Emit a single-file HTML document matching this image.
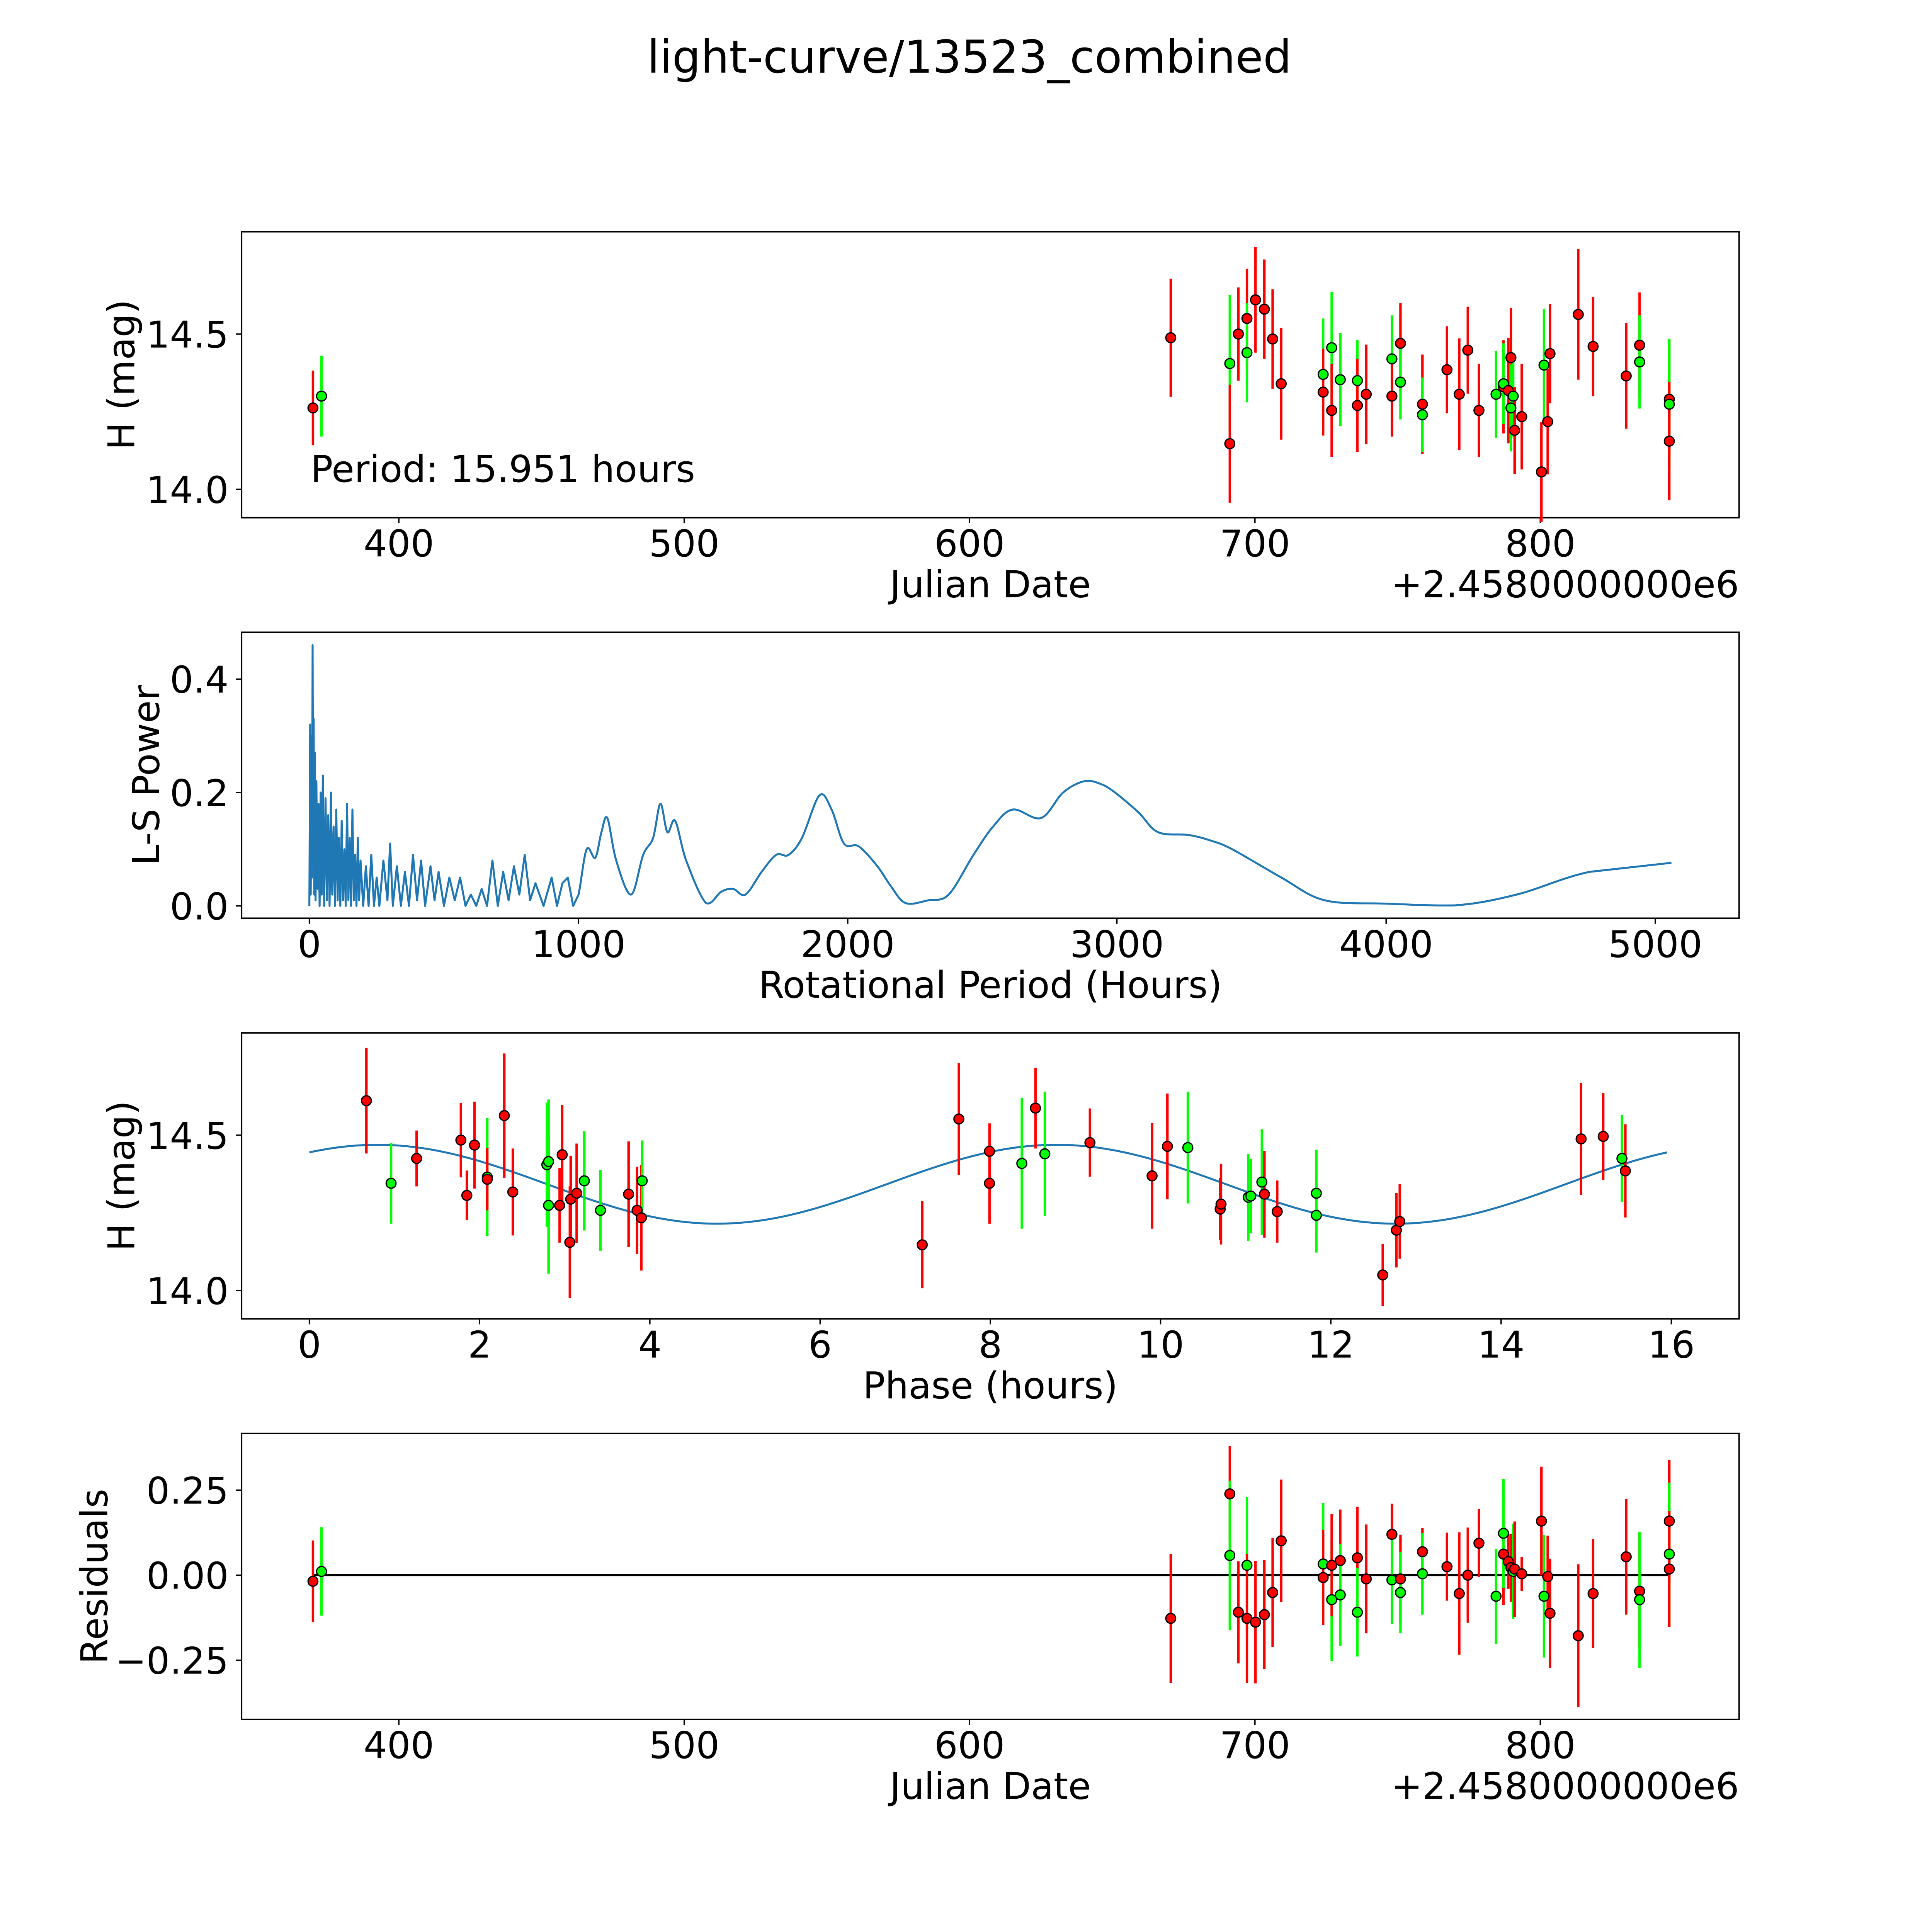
<!DOCTYPE html>
<html><head><meta charset="utf-8"><style>
html,body{margin:0;padding:0;background:#fff;overflow:hidden}
svg{display:block;width:100vw;height:100vh}
text{font-family:"DejaVu Sans","Liberation Sans",sans-serif;fill:#000}
</style></head><body>
<svg id="fig" viewBox="0 0 1567.5 1567.5" preserveAspectRatio="none" xmlns="http://www.w3.org/2000/svg">
<rect width="1567.5" height="1567.5" fill="#fff"/>
<text x="786.5" y="59" font-size="36.5" text-anchor="middle">light-curve/13523_combined</text>
<g id="g1"></g>
<g id="g2"></g>
<g id="g3"></g>
<g id="g4"></g>
</svg>
<script>
// ---------- Panel 1 data: light curve ----------
const lcDates = [369.9,372.9,670.5,691.2,691.2,694.2,697.2,697.2,700.2,703.3,706.2,709.2,723.9,723.9,726.9,726.9,729.9,729.9,735.9,735.9,739,748,748,751,751,758.7,758.7,767.3,771.6,774.6,778.5,784.5,787.1,787.1,788.8,789.7,789.7,790.5,791,793.5,800.4,801.3,802.6,803.4,813.3,818.5,830.1,834.8,834.8,845.2,845.2,845.2];
const lcMags = [14.262,14.30,14.488,14.405,14.147,14.50,14.55,14.44,14.61,14.58,14.484,14.34,14.37,14.313,14.456,14.254,14.353,14.353,14.35,14.27,14.306,14.42,14.30,14.47,14.345,14.274,14.24,14.385,14.306,14.448,14.254,14.306,14.33,14.34,14.318,14.424,14.262,14.30,14.19,14.234,14.056,14.40,14.218,14.437,14.563,14.46,14.365,14.464,14.41,14.29,14.274,14.155];
const lcColors = ['r','g','r','g','r','r','r','g','r','r','r','r','g','r','g','r','r','g','g','r','r','g','r','r','g','r','g','r','r','r','r','g','r','g','r','r','g','g','r','r','r','g','r','r','r','r','r','r','g','r','g','r'];
const lcErr = [0.12,0.13,0.19,0.22,0.19,0.15,0.16,0.16,0.17,0.16,0.16,0.18,0.18,0.14,0.18,0.15,0.15,0.15,0.13,0.15,0.16,0.14,0.13,0.13,0.12,0.16,0.12,0.14,0.18,0.14,0.15,0.14,0.15,0.13,0.17,0.16,0.14,0.13,0.14,0.17,0.16,0.18,0.17,0.16,0.21,0.16,0.17,0.17,0.15,0.19,0.21,0.19];
const lcTicksX = [400,500,600,700,800];
const lcTicksY = [14.0,14.5];

// ---------- Panel 2 data: periodogram ----------
const lsPeriods = [
0,3,5,8,10,12,14,16,18,20,
23,26,30,34,38,42,46,50,55,60,
65,70,75,80,85,90,95,100,105,110,
115,120,125,130,135,140,145,150,155,160,
165,170,175,180,185,190,200,210,220,230,
240,250,260,275,290,300,310,325,340,355,
370,385,400,415,430,450,465,480,500,520,
540,560,580,600,620,640,660,680,700,720,
740,760,780,800,820,840,870,900,920,940,
960,980,1000,1030,1062,1085,1107,1140,1195,1240,
1277,1304,1330,1359,1400,1474,1530,1574,1620,1680,
1734,1780,1830,1895,1940,1986,2041,2110,2160,2215,
2300,2375,2467,2540,2613,2718,2800,2879,2940,2993,
3080,3153,3268,3350,3428,3611,3771,4000,4256,4485,
4755,5060];
const lsPower = [
0,0.32,0.02,0.30,0.05,0.46,0.08,0.33,0.02,0.27,
0.01,0.22,0.03,0.18,0,0.2,0.02,0.23,0,0.19,
0.01,0.16,0,0.2,0.02,0.14,0,0.17,0.01,0.12,
0,0.15,0.01,0.1,0,0.18,0.01,0.12,0,0.17,
0.01,0.09,0,0.12,0.01,0.08,0,0.07,0,0.09,
0,0.05,0,0.08,0.01,0.11,0,0.07,0,0.06,
0,0.09,0.01,0.08,0,0.07,0.01,0.06,0,0.05,
0.01,0.05,0,0.02,0,0.03,0,0.08,0,0.06,
0.01,0.07,0.02,0.09,0.01,0.04,0,0.05,0,0.04,
0.05,0,0.02,0.1,0.085,0.13,0.155,0.08,0.02,0.09,
0.12,0.18,0.13,0.15,0.08,0.005,0.025,0.03,0.02,0.06,
0.09,0.09,0.12,0.195,0.17,0.11,0.105,0.07,0.035,0.005,
0.01,0.02,0.09,0.14,0.17,0.155,0.2,0.22,0.215,0.2,
0.165,0.13,0.125,0.115,0.1,0.05,0.01,0.004,0.001,0.02,
0.06,0.076];
const lsTicksX = [0,1000,2000,3000,4000,5000];
const lsTicksY = [0.0,0.2,0.4];

// ---------- Panel 3 data: phased ----------
const phPhase = [0.67,0.96,1.26,1.78,1.85,1.94,2.09,2.09,2.29,2.39,2.79,2.81,2.81,2.94,2.97,3.06,3.07,3.14,3.23,3.42,3.75,3.85,3.90,3.91,7.20,7.63,7.99,7.99,8.37,8.53,8.64,9.17,9.90,10.08,10.32,10.70,10.71,11.03,11.06,11.19,11.22,11.37,11.83,11.83,12.61,12.77,12.81,14.94,15.20,15.42,15.46];
const phMags = [14.611,14.345,14.425,14.484,14.306,14.468,14.365,14.358,14.563,14.317,14.405,14.415,14.274,14.274,14.437,14.155,14.294,14.313,14.353,14.258,14.31,14.258,14.234,14.353,14.147,14.552,14.448,14.345,14.409,14.587,14.44,14.476,14.369,14.464,14.46,14.262,14.278,14.30,14.304,14.349,14.31,14.254,14.313,14.242,14.05,14.194,14.222,14.488,14.496,14.425,14.385];
const phColors = ['r','g','r','r','r','r','g','r','r','r','g','g','g','r','r','r','r','r','g','g','r','r','r','g','r','r','r','r','g','r','g','r','r','r','g','r','r','g','g','g','r','r','g','g','r','r','r','r','r','g','r'];
const phErr = [0.17,0.13,0.09,0.12,0.08,0.14,0.19,0.1,0.2,0.14,0.2,0.2,0.22,0.12,0.16,0.18,0.14,0.16,0.16,0.13,0.17,0.14,0.17,0.13,0.14,0.18,0.09,0.13,0.21,0.13,0.2,0.11,0.17,0.17,0.18,0.1,0.13,0.14,0.12,0.17,0.14,0.1,0.14,0.12,0.1,0.12,0.12,0.18,0.14,0.14,0.15];
const fitMean = 14.342, fitAmp = 0.127, fitPhase0 = 0.8, fitHalfPeriod = 7.9755;
const phTicksX = [0,2,4,6,8,10,12,14,16];
const phTicksY = [14.0,14.5];

// ---------- Panel 4 data: residuals ----------
const resDates = [369.9,372.9,670.5,691.2,691.2,694.2,697.2,697.2,700.2,703.3,706.2,709.2,723.9,723.9,726.9,726.9,729.9,729.9,735.9,735.9,739,748,748,751,751,758.7,758.7,767.3,771.6,774.6,778.5,784.5,787.1,787.1,788.8,789.7,790.5,791,793.5,800.4,801.3,802.6,803.4,813.3,818.5,830.1,834.8,834.8,845.2,845.2,845.2];
const resVals = [-0.018,0.011,-0.127,0.239,0.058,-0.109,0.029,-0.127,-0.138,-0.116,-0.051,0.101,0.033,-0.007,-0.072,0.029,0.043,-0.058,0.051,-0.109,-0.011,0.12,-0.014,-0.011,-0.051,0.069,0.004,0.025,-0.054,0,0.094,-0.062,0.062,0.123,0.04,0.022,0.011,0.018,0.004,0.159,-0.062,-0.004,-0.112,-0.178,-0.054,0.054,-0.047,-0.072,0.159,0.062,0.018];
const resColors = ['r','g','r','r','g','r','g','r','r','r','r','r','g','r','g','r','r','g','r','g','r','r','g','r','g','r','g','r','r','r','r','g','r','g','r','r','g','r','r','r','g','r','r','r','r','r','r','g','r','g','r'];
const resErr = [0.12,0.13,0.19,0.14,0.22,0.15,0.2,0.19,0.18,0.16,0.16,0.18,0.18,0.14,0.18,0.15,0.15,0.15,0.15,0.13,0.16,0.09,0.13,0.13,0.12,0.07,0.12,0.1,0.18,0.14,0.1,0.14,0.15,0.16,0.08,0.1,0.14,0.14,0.05,0.16,0.18,0.12,0.16,0.21,0.16,0.17,0.17,0.2,0.18,0.21,0.17];
const resTicksY = [-0.25,0.0,0.25];

const NS = 'http://www.w3.org/2000/svg';
const COL = {r:'#ff0000', g:'#00ff00'};
const FS = 30;
function mk(parent, tag, attrs){ const e=document.createElementNS(NS,tag); for(const k in attrs) e.setAttribute(k,attrs[k]); parent.appendChild(e); return e; }
function lin(d0,d1,p0,p1){ return v => p0 + (v-d0)*(p1-p0)/(d1-d0); }
function fmt(v,dec){ const s=v.toFixed(dec); return s.startsWith('-') ? '\u2212'+s.slice(1) : s; }

function frame(g, L, T, R, B, sx, sy, xt, yt, xdec, ydec, xlabel, ylabel, ylabX, offset){
  const box = mk(g,'rect',{x:L,y:T,width:R-L,height:B-T,fill:'none',stroke:'#000','stroke-width':1.2});
  
  
  xt.forEach(v=>{
    const x=sx(v);
    const t=mk(g,'line',{x1:x,x2:x,y1:B,y2:B+4.5,stroke:'#000','stroke-width':1.1});
    
    
    const l=mk(g,'text',{x:x,y:B+31.5,'font-size':FS,'text-anchor':'middle'}); l.textContent=fmt(v,xdec);
    
    
  });
  yt.forEach(v=>{
    const y=sy(v);
    const t=mk(g,'line',{x1:L-4.5,x2:L,y1:y,y2:y,stroke:'#000','stroke-width':1.1});
    
    
    const l=mk(g,'text',{x:L-10.5,y:y+11,'font-size':FS,'text-anchor':'end'}); l.textContent=fmt(v,ydec);
    
    
  });
  const xl=mk(g,'text',{x:(L+R)/2,y:B+64.5,'font-size':FS,'text-anchor':'middle'}); xl.textContent=xlabel;
  
  
  const cy=(T+B)/2;
  const yl=mk(g,'text',{x:ylabX,y:cy,'font-size':FS,'text-anchor':'middle',transform:`rotate(-90 ${ylabX} ${cy})`}); yl.textContent=ylabel;
  
  
  if(offset){
    const o=mk(g,'text',{x:R,y:B+64.5,'font-size':FS,'text-anchor':'end'}); o.textContent=offset;
    
    
  }
}
function points(g, xs, ys, cols, errs, sx, sy){
  xs.forEach((v,i)=>{
    const x=sx(v), c=COL[cols[i]];
    const e=mk(g,'line',{x1:x,x2:x,y1:sy(ys[i]-errs[i]),y2:sy(ys[i]+errs[i]),stroke:c,'stroke-width':2});
    
    
  });
  xs.forEach((v,i)=>{
    const p=mk(g,'circle',{cx:sx(v),cy:sy(ys[i]),r:4,fill:COL[cols[i]],stroke:'#000','stroke-width':1});
    
    
  });
}
const OFF='+2.4580000000e6';
// Panel 1
{
  const g=document.getElementById('g1');
  const sx=lin(400,800,323.6,1249.7), sy=lin(14.0,14.5,397,271);
  frame(g,196,188,1411,420,sx,sy,lcTicksX,lcTicksY,0,1,'Julian Date','H (mag)',109,OFF);
  points(g,lcDates,lcMags,lcColors,lcErr,sx,sy);
  const t=mk(g,'text',{x:252,y:391,'font-size':FS}); t.textContent='Period: 15.951 hours';
  
  
}
// Panel 2
{
  const g=document.getElementById('g2');
  const sx=lin(0,5000,251,1343), sy=lin(0,0.4,735,551);
  frame(g,196,513,1411,745,sx,sy,lsTicksX,lsTicksY,0,1,'Rotational Period (Hours)','L-S Power',129);
  const P=lsPeriods.map((p,i)=>[sx(p),sy(lsPower[i])]);
  let d='M'+P[0][0].toFixed(2)+' '+P[0][1].toFixed(2);
  for(let i=1;i<P.length;i++){
    if(lsPeriods[i-1]>=1000 && i+1<P.length){
      const p0=P[i-2]||P[i-1], p1=P[i-1], p2=P[i], p3=P[i+1]||P[i];
      const c1=[p1[0]+(p2[0]-p0[0])/6, Math.min(sy(0),p1[1]+(p2[1]-p0[1])/6)];
      const c2=[p2[0]-(p3[0]-p1[0])/6, Math.min(sy(0),p2[1]-(p3[1]-p1[1])/6)];
      d+=` C${c1[0].toFixed(2)} ${c1[1].toFixed(2)} ${c2[0].toFixed(2)} ${c2[1].toFixed(2)} ${p2[0].toFixed(2)} ${p2[1].toFixed(2)}`;
    } else {
      d+=` L${P[i][0].toFixed(2)} ${P[i][1].toFixed(2)}`;
    }
  }
  const path=mk(g,'path',{d:d,fill:'none',stroke:'#1f77b4','stroke-width':1.6,'stroke-linejoin':'round'});
  
  
}
// Panel 3
{
  const g=document.getElementById('g3');
  const sx=lin(0,16,251,1356), sy=lin(14.0,14.5,1047,921);
  frame(g,196,838,1411,1070,sx,sy,phTicksX,phTicksY,0,1,'Phase (hours)','H (mag)',109);
  let d='';
  for(let i=0;i<=320;i++){ const p=15.951*i/320; const m=fitMean+fitAmp*Math.cos(2*Math.PI*(p-fitPhase0)/fitHalfPeriod); d+=(i?'L':'M')+sx(p).toFixed(2)+' '+sy(m).toFixed(2)+' '; }
  const path=mk(g,'path',{d:d,fill:'none',stroke:'#1f77b4','stroke-width':1.6});
  
  
  points(g,phPhase,phMags,phColors,phErr,sx,sy);
}
// Panel 4
{
  const g=document.getElementById('g4');
  const sx=lin(400,800,323.6,1249.7), sy=lin(0,0.25,1278,1209);
  frame(g,196,1163,1411,1395,sx,sy,lcTicksX,resTicksY,0,2,'Julian Date','Residuals',87,OFF);
  const z=mk(g,'line',{x1:sx(369.9),x2:sx(845.2),y1:sy(0),y2:sy(0),stroke:'#000','stroke-width':1.6});
  
  
  points(g,resDates,resVals,resColors,resErr,sx,sy);
}
</script>
</body></html>
